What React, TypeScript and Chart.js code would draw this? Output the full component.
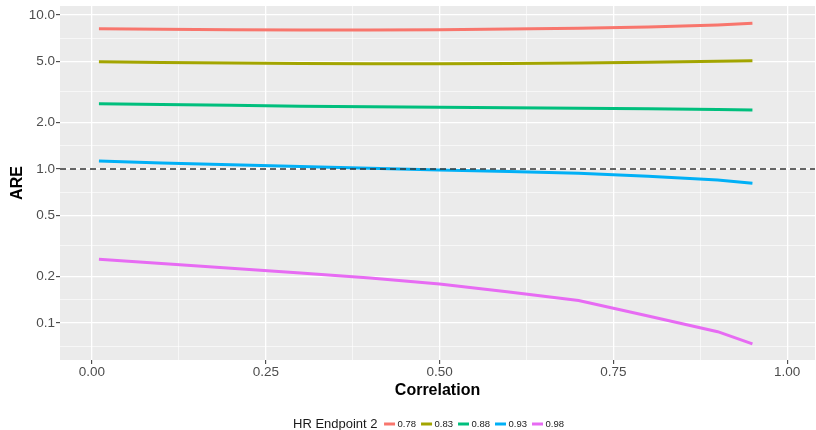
import React, { useEffect, useRef } from 'react';
import { Chart, registerables } from 'chart.js';

Chart.register(...registerables);

const correlation = [0.01, 0.1, 0.2, 0.3, 0.4, 0.5, 0.6, 0.7, 0.8, 0.9, 0.95];
const are078 = [8.15, 8.08, 8.02, 7.99, 8.0, 8.03, 8.1, 8.2, 8.35, 8.62, 8.85];
const are083 = [4.97, 4.92, 4.87, 4.84, 4.83, 4.83, 4.85, 4.88, 4.93, 5.0, 5.05];
const are088 = [2.65, 2.62, 2.59, 2.56, 2.54, 2.52, 2.5, 2.48, 2.46, 2.43, 2.42];
const are093 = [1.127, 1.094, 1.065, 1.038, 1.01, 0.985, 0.965, 0.938, 0.898, 0.848, 0.808];
const are098 = [0.259, 0.243, 0.227, 0.211, 0.196, 0.179, 0.159, 0.14, 0.111, 0.0878, 0.0731];

const seriesLabels = ['0.78', '0.83', '0.88', '0.93', '0.98'];
const seriesValues = [are078, are083, are088, are093, are098];
const seriesColors = ['#F8766D', '#A3A500', '#00BF7D', '#00B0F6', '#E76BF3'];

const xMajorTicks = [0, 0.25, 0.5, 0.75, 1];
const xMinorTicks = [0.125, 0.375, 0.625, 0.875];
const yMajorTicks = [0.1, 0.2, 0.5, 1, 2, 5, 10];
const yMinorTicks = [0.0707, 0.1414, 0.3162, 0.7071, 1.4142, 3.1623, 7.0711];
const referenceLine = 1;
const legendTitle = 'HR Endpoint 2';
const xTitle = 'Correlation';
const yTitle = 'ARE';

const FONT = "'Liberation Sans', Arial, Helvetica, sans-serif";

const isIn = (list: number[], v: number) => list.some((t) => Math.abs(t - v) < 1e-9);

const panelPlugin = {
  id: 'ggPanel',
  beforeDraw(chart: any) {
    const { ctx, chartArea } = chart;
    ctx.save();
    ctx.fillStyle = '#EBEBEB';
    ctx.fillRect(chartArea.left, chartArea.top, chartArea.right - chartArea.left, chartArea.bottom - chartArea.top);
    ctx.restore();
  },
  afterDatasetsDraw(chart: any) {
    const { ctx, chartArea, scales } = chart;
    const y = scales.y.getPixelForValue(referenceLine);
    ctx.save();
    ctx.beginPath();
    ctx.rect(chartArea.left, chartArea.top, chartArea.right - chartArea.left, chartArea.bottom - chartArea.top);
    ctx.clip();
    ctx.strokeStyle = '#333333';
    ctx.lineWidth = 1.4;
    ctx.setLineDash([6, 4]);
    ctx.beginPath();
    ctx.moveTo(chartArea.left, y);
    ctx.lineTo(chartArea.right, y);
    ctx.stroke();
    ctx.restore();
  },
  afterDraw(chart: any) {
    const { ctx } = chart;
    const cy = 424;
    ctx.save();
    ctx.textBaseline = 'middle';
    ctx.textAlign = 'left';
    ctx.fillStyle = '#1a1a1a';
    ctx.font = `13px ${FONT}`;
    let x = 293;
    ctx.fillText(legendTitle, x, cy);
    x += ctx.measureText(legendTitle).width + 6.5;
    ctx.font = `9.5px ${FONT}`;
    chart.data.datasets.forEach((ds: any) => {
      ctx.strokeStyle = ds.borderColor;
      ctx.lineWidth = 3;
      ctx.setLineDash([]);
      ctx.beginPath();
      ctx.moveTo(x, cy);
      ctx.lineTo(x + 11, cy);
      ctx.stroke();
      x += 13.5;
      ctx.fillStyle = '#1a1a1a';
      ctx.fillText(ds.label, x, cy);
      x += ctx.measureText(ds.label).width + 5;
    });
    ctx.restore();
  },
};

export default function App() {
  const canvasRef = useRef<HTMLCanvasElement | null>(null);

  useEffect(() => {
    const canvas = canvasRef.current;
    if (!canvas) return;
    const datasets = seriesLabels.map((label, i) => ({
      label,
      data: correlation.map((c, j) => ({ x: c, y: seriesValues[i][j] })),
      borderColor: seriesColors[i],
      backgroundColor: seriesColors[i],
      borderWidth: 3,
      pointRadius: 0,
      tension: 0,
      fill: false,
    }));

    const chart = new Chart(canvas, {
      type: 'line',
      data: { datasets },
      plugins: [panelPlugin],
      options: {
        animation: false,
        responsive: false,
        devicePixelRatio: 1,
        layout: { padding: { top: 6, right: 1, bottom: 28, left: 0 } },
        plugins: { legend: { display: false }, tooltip: { enabled: false } },
        scales: {
          x: {
            type: 'linear',
            min: -0.046,
            max: 1.04,
            afterBuildTicks: (s: any) => {
              s.ticks = [...xMajorTicks, ...xMinorTicks].sort((a, b) => a - b).map((v) => ({ value: v }));
            },
            afterFit: (s: any) => {
              s.height = 42;
              s.paddingLeft = 0;
              s.paddingRight = 0;
            },
            ticks: {
              autoSkip: false,
              maxRotation: 0,
              padding: 0,
              color: '#4D4D4D',
              font: { family: FONT, size: 13.5 },
              callback: (v: any) => (isIn(xMajorTicks, Number(v)) ? Number(v).toFixed(2) : ''),
            },
            grid: {
              color: '#FFFFFF',
              lineWidth: (c: any) => (c.tick && isIn(xMajorTicks, c.tick.value) ? 1.3 : 0.6),
              tickLength: 4,
              tickWidth: 1,
              tickColor: (c: any) => (c.tick && isIn(xMajorTicks, c.tick.value) ? '#333333' : 'rgba(0,0,0,0)'),
            },
            border: { display: false },
            title: {
              display: true,
              text: xTitle,
              color: '#000000',
              font: { family: FONT, size: 16, weight: 'bold' },
              padding: { top: 0, bottom: 2 },
            },
          },
          y: {
            type: 'logarithmic',
            min: 0.0575,
            max: 11.44,
            afterBuildTicks: (s: any) => {
              s.ticks = [...yMajorTicks, ...yMinorTicks].sort((a, b) => a - b).map((v) => ({ value: v }));
            },
            afterFit: (s: any) => {
              s.width = 60;
              s.paddingTop = 0;
              s.paddingBottom = 0;
            },
            ticks: {
              autoSkip: false,
              padding: 1,
              color: '#4D4D4D',
              font: { family: FONT, size: 13.5 },
              callback: (v: any) => (isIn(yMajorTicks, Number(v)) ? Number(v).toFixed(1) : ''),
            },
            grid: {
              color: '#FFFFFF',
              lineWidth: (c: any) => (c.tick && isIn(yMajorTicks, c.tick.value) ? 1.3 : 0.6),
              tickLength: 4,
              tickWidth: 1,
              tickColor: (c: any) => (c.tick && isIn(yMajorTicks, c.tick.value) ? '#333333' : 'rgba(0,0,0,0)'),
            },
            border: { display: false },
            title: {
              display: true,
              text: yTitle,
              color: '#000000',
              font: { family: FONT, size: 16, weight: 'bold' },
              padding: { top: 8, bottom: 0 },
            },
          },
        },
      } as any,
    });
    return () => chart.destroy();
  }, []);

  return (
    <div style={{ position: 'absolute', left: 0, top: 0, width: 816, height: 430, background: '#FFFFFF' }}>
      <canvas ref={canvasRef} width={816} height={430} style={{ display: 'block', width: 816, height: 430 }} />
    </div>
  );
}
